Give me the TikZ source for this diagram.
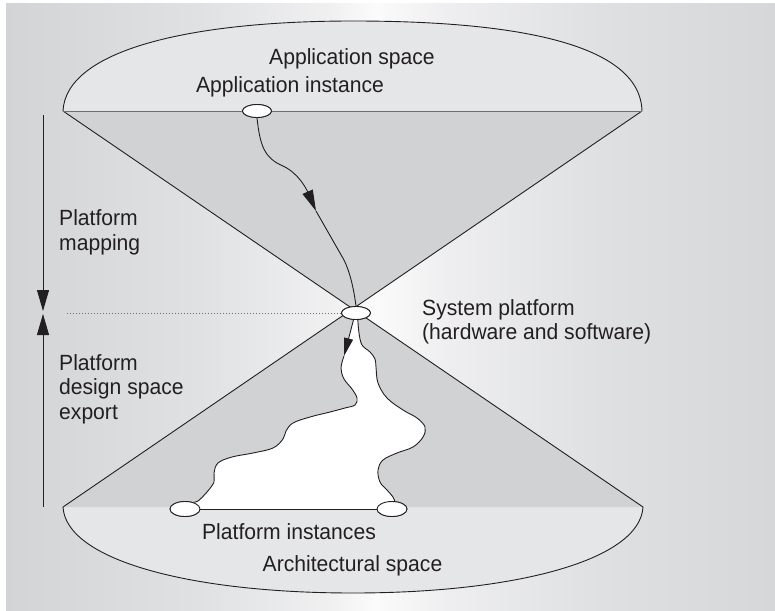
\documentclass[tikz,border=0pt]{standalone}
\usepackage{fontspec}
\setmainfont{Liberation Sans}[FakeStretch=0.96]
\usetikzlibrary{arrows.meta,shapes.geometric}
\definecolor{bgA}{RGB}{211,212,214}
\definecolor{bgB}{RGB}{224,225,227}
\definecolor{bgC}{RGB}{240,240,241}
\definecolor{bgD}{RGB}{251,251,251}
\definecolor{bgE}{RGB}{238,238,240}
\definecolor{bgF}{RGB}{223,224,226}
\definecolor{bgG}{RGB}{214,215,217}
\definecolor{elfill}{RGB}{229,230,232}
\definecolor{trifill}{RGB}{209,210,212}
\definecolor{ink}{RGB}{35,31,32}
\definecolor{chord}{RGB}{110,111,113}
\pgfdeclarehorizontalshading{bgshade}{100bp}{color(0bp)=(bgA); color(25bp)=(bgA); color(37.6bp)=(bgB); color(46.1bp)=(bgC); color(49bp)=(bgD); color(53.9bp)=(bgE); color(63.6bp)=(bgF); color(75bp)=(bgG); color(100bp)=(bgG)}
\tikzset{
  stroke/.style={draw=ink, line width=0.9bp},
  dotnode/.style={ellipse, draw=ink, fill=white, line width=0.9bp, minimum width=29bp, minimum height=13bp, inner sep=0pt},
  lbl/.style={font=\fontsize{22bp}{26bp}\selectfont, inner sep=0pt, text=ink},
  bigtip/.style={-{Triangle[length=21bp,width=12bp]}},
  midtip/.style={-{Triangle[length=21bp,width=11bp]}},
  smalltip/.style={-{Triangle[length=18bp,width=9bp]}},
  dotline/.style={draw=chord, line width=1bp, dash pattern=on 1.1bp off 1.9bp},
}
\begin{document}
\begin{tikzpicture}[x=1bp,y=-1bp]
\useasboundingbox (0,0) rectangle (775,611);
% background
\shade[shading=bgshade] (6,4) rectangle (775,611);
% key corners
\coordinate (TL) at (63,111);
\coordinate (TR) at (642,111);
\coordinate (BL) at (63,507);
\coordinate (BR) at (643,507);
\coordinate (X) at (intersection of TL--BR and TR--BL);
% application space (upper lens)
\fill[elfill] (TL) .. controls (66,50) and (190,21) .. (353,21) .. controls (510,21) and (640,42) .. (TR) -- cycle;
\draw[stroke] (TL) .. controls (66,50) and (190,21) .. (353,21) .. controls (510,21) and (640,42) .. (TR);
% architectural space (lower lens)
\fill[elfill] (BL) .. controls (66,560) and (190,593) .. (353,593) .. controls (516,593) and (640,560) .. (BR) -- cycle;
\draw[stroke] (BL) .. controls (66,560) and (190,593) .. (353,593) .. controls (516,593) and (640,560) .. (BR);
% triangles
\fill[trifill] (TL) -- (TR) -- (X) -- cycle;
\fill[trifill] (BL) -- (BR) -- (X) -- cycle;
\draw[stroke] (TL) -- (BR);
\draw[stroke] (TR) -- (BL);
\draw[draw=chord, line width=0.8bp] (TL) -- (TR);
% nodes
\node[dotnode] (ai) at (257,111) {};
\node[dotnode] (sp) at (356,313) {};
\node[dotnode, minimum width=30bp, minimum height=15bp] (pl) at (185,509) {};
\node[dotnode, minimum width=30bp, minimum height=15bp] (pr) at (392,509) {};
% white platform region
\coordinate (lt) at (344,356);
\fill[white] (sp.250) -- (lt) -- plot[smooth,tension=0.6] coordinates {(lt) (341,368) (344,379) (352,389) (357,398) (355,405) (345,408) (330,412) (310,417) (293,423) (286,431) (283,439) (273,448) (253,453) (232,457) (218,463) (214,473) (214,482) (207,492) (198,501) (pl.40)} -- (pl.east) -- (pr.west) -- plot[smooth,tension=0.6] coordinates {(pr.70) (395,502) (393,497) (387,490) (380,482) (378,470) (383,460) (397,453) (413,447) (423,437) (425,427) (417,418) (403,410) (387,398) (378,383) (376,367) (375,359) (370,352) (362,345) (359,333) (sp.285)} -- cycle;
\draw[stroke] plot[smooth,tension=0.6] coordinates {(lt) (341,368) (344,379) (352,389) (357,398) (355,405) (345,408) (330,412) (310,417) (293,423) (286,431) (283,439) (273,448) (253,453) (232,457) (218,463) (214,473) (214,482) (207,492) (198,501) (pl.40)};
\draw[stroke] plot[smooth,tension=0.6] coordinates {(sp.285) (359,333) (362,345) (370,352) (375,359) (376,367) (378,383) (387,398) (403,410) (417,418) (425,427) (423,437) (413,447) (397,453) (383,460) (378,470) (380,482) (387,490) (393,497) (395,502) (pr.70)};
\draw[stroke] (pl) -- (pr);
\draw[stroke, smalltip] (sp.250) -- (lt);
% application instance -> system platform
\coordinate (m1) at (316,211);
\draw[stroke, midtip] (ai.south) .. controls (260,145) and (264,158) .. (283,166) .. controls (298,173) and (306,188) .. (m1);
\draw[stroke] (m1) -- (344,260) .. controls (350,272) and (354,290) .. (sp.north);
% dotted level line
\coordinate (dl) at (67,313);
\draw[dotline] (dl) -- (sp.west);
% left vertical arrows
\coordinate (va) at (43,115);
\coordinate (vb) at (43,311);
\coordinate (vc) at (43,314);
\coordinate (vd) at (43,507);
\draw[stroke, bigtip] (va) -- (vb);
\draw[stroke, bigtip] (vd) -- (vc);
% ensure nodes on top
\node[dotnode] at (ai) {};
\node[dotnode] at (sp) {};
\node[dotnode, minimum width=30bp, minimum height=15bp] at (pl) {};
\node[dotnode, minimum width=30bp, minimum height=15bp] at (pr) {};
% labels
\node[lbl, anchor=base] (t1) at (352,65) {Application space};
\node[lbl, anchor=base] (t2) at (290,93) {Application instance};
\node[lbl, anchor=base west] (t3) at (59,226) {Platform};
\node[lbl, anchor=base west] (t4) at (59,250.5) {mapping};
\node[lbl, anchor=base west] (t5) at (59,370) {Platform};
\node[lbl, anchor=base west] (t6) at (59,394.5) {design space};
\node[lbl, anchor=base west] (t7) at (59,419) {export};
\node[lbl, anchor=base west] (t8) at (422,315) {System platform};
\node[lbl, anchor=base west] (t9) at (422,339) {(hardware and software)};
\node[lbl, anchor=base] (t10) at (289,539) {Platform instances};
\node[lbl, anchor=base] (t11) at (352.5,571) {Architectural space};
\end{tikzpicture}
\end{document}
